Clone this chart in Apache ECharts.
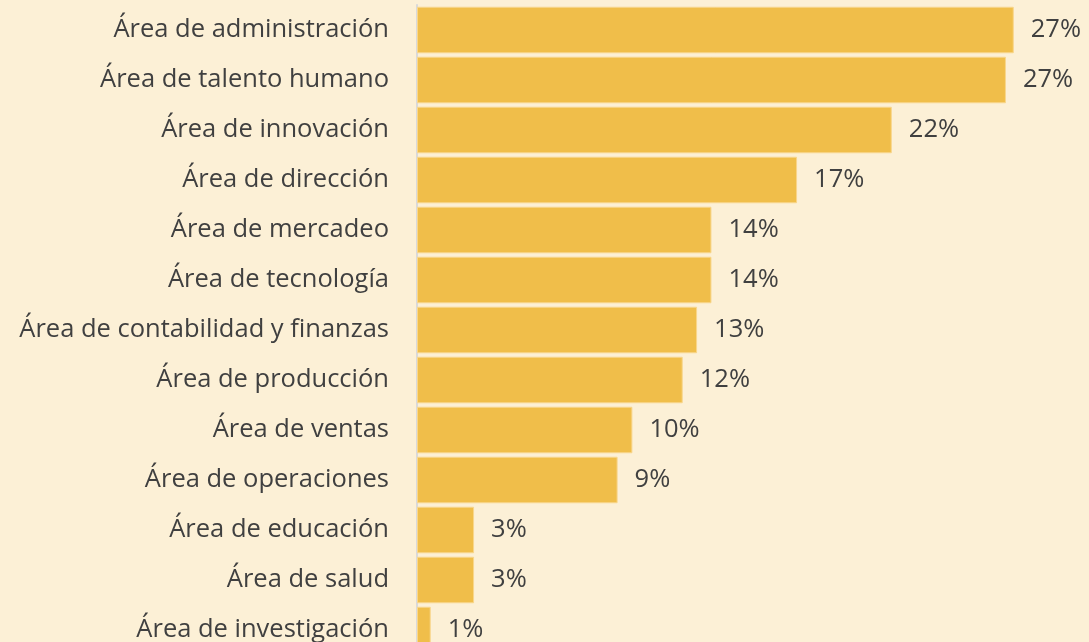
<!DOCTYPE html>
<html>
<head>
<meta charset="utf-8">
<script src="https://cdn.jsdelivr.net/npm/echarts@6/dist/echarts.min.js"></script>
<style>
  html, body { margin: 0; padding: 0; background: #FCF0D6; }
  #chart { width: 1089px; height: 642px; }
</style>
</head>
<body>
<div id="chart"></div>
<script>
// Áreas de la organización, de mayor a menor participación
const categories = [
  'Área de administración',
  'Área de talento humano',
  'Área de innovación',
  'Área de dirección',
  'Área de mercadeo',
  'Área de tecnología',
  'Área de contabilidad y finanzas',
  'Área de producción',
  'Área de ventas',
  'Área de operaciones',
  'Área de educación',
  'Área de salud',
  'Área de investigación'
];

// Porcentaje por área (la etiqueta muestra el valor redondeado)
const values = [27.40, 27.04, 21.80, 17.45, 13.52, 13.52, 12.86, 12.20, 9.89, 9.21, 2.62, 2.62, 0.63];

const textColor = '#404040';
const fontFamily = '"Open Sans", "Noto Sans", sans-serif';

const chart = echarts.init(document.getElementById('chart'), null, { renderer: 'canvas' });

chart.setOption({
  backgroundColor: '#FCF0D6',
  animation: false,
  grid: { left: 417, top: 5, height: 650, right: 18.6, outerBoundsMode: 'none', containLabel: false },
  xAxis: {
    type: 'value',
    min: 0,
    max: 30,
    show: false
  },
  yAxis: {
    type: 'category',
    data: categories,
    inverse: true,
    axisLine: { show: true, lineStyle: { color: '#D9D9D9', width: 2 } },
    axisTick: { show: false },
    splitLine: { show: false },
    axisLabel: {
      color: textColor,
      fontFamily: fontFamily,
      fontSize: 25.5,
      margin: 28,
      padding: [5, 0, 0, 0]
    }
  },
  series: [{
    type: 'bar',
    data: values,
    barCategoryGap: '7%',
    itemStyle: {
      color: '#F0BE4A',
      borderColor: '#F8D68C',
      borderWidth: 1
    },
    label: {
      show: true,
      position: 'right',
      distance: 17,
      color: textColor,
      fontFamily: fontFamily,
      fontSize: 25.5,
      padding: [5, 0, 0, 0],
      formatter: p => Math.round(p.value) + '%'
    }
  }]
});
</script>
</body>
</html>
